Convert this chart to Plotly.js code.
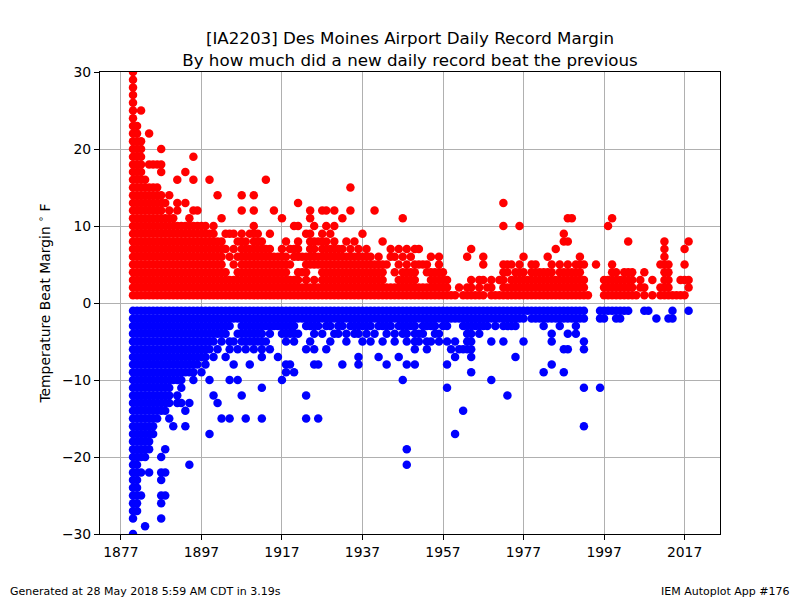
<!DOCTYPE html>
<html>
<head>
<meta charset="utf-8">
<script src="https://cdn.plot.ly/plotly-3.0.1.min.js"></script>
<style>
body { margin: 0; background: #fff; }
#chart { width: 800px; height: 600px; }
</style>
</head>
<body>
<div id="chart"></div>
<script>
// Years that have at least one new daily record.
var years = [
1880,1881,1882,1883,1884,1885,1886,1887,1888,1889,1890,1891,1892,1893,1894,1895,1896,1897,1898,
1899,1900,1901,1902,1903,1904,1905,1906,1907,1908,1909,1910,1911,1912,1913,1914,1915,1916,1917,1918,
1919,1920,1921,1922,1923,1924,1925,1926,1927,1928,1929,1930,1931,1932,1933,1934,1935,1936,1937,1938,
1939,1940,1941,1942,1943,1944,1945,1946,1947,1948,1949,1950,1951,1952,1953,1954,1955,1956,1957,1958,
1959,1960,1961,1962,1963,1964,1965,1966,1967,1968,1969,1970,1971,1972,1973,1974,1975,1976,1977,1978,
1979,1980,1981,1982,1983,1984,1985,1986,1987,1988,1989,1990,1991,1992,1993,1994,1995,1996,1997,1998,
1999,2000,2001,2002,2003,2004,2005,2006,2007,2008,2009,2010,2011,2012,2013,2014,2015,2016,2017,2018
];

// Margins (F) by which new record highs beat the old record, one row per year.
var highMargins = [
[1,2,3,4,5,6,7,8,9,10,11,12,13,14,15,16,17,18,19,20,21,22,23,24,25,26,27,28,29,30],
[1,2,3,4,5,6,7,8,9,10,11,12,13,14,15,16,17,18,19,20,21,22,23],
[1,2,3,4,5,6,7,8,9,10,11,12,13,14,15,16,17,18,19,20,21,25],
[1,2,3,4,5,6,7,8,9,10,11,12,13,14,15,16],
[1,2,3,4,5,6,7,8,9,10,11,12,13,14,15,18,22],
[1,2,3,4,5,6,7,8,9,10,11,12,13,14,15,18],
[1,2,3,4,5,6,7,8,9,10,11,12,13,14,15,18],
[1,2,3,4,5,6,7,8,9,10,11,12,13,14,17,18,20],
[1,2,3,4,5,6,7,8,9,10,11,13],
[1,2,3,4,5,6,7,8,9,10,11,12,14],
[1,2,3,4,5,6,7,8,9,10,11],
[1,2,3,4,5,6,7,8,9,10,12,13,16],
[1,2,3,4,5,6,7,8,9,10],
[1,2,3,4,5,6,7,8,9,10,13,17],
[1,2,3,4,5,6,7,8,9,10,11],
[1,2,3,4,5,6,7,8,9,10,12,16,19],
[1,2,3,4,5,6,7,8,9,10,12],
[1,2,3,4,5,6,7,8,9,10],
[1,2,3,4,5,6,7,8,9,10],
[1,2,3,4,5,6,7,8,9,16],
[1,2,3,4,5,6,7,8,9,10],
[1,2,3,4,5,6,7,8,14],
[1,2,3,4,5,6,7,8,11],
[1,2,3,4,7,9],
[1,2,3,6,9],
[1,2,3,5,7,9],
[1,2,3,4,6,8],
[1,2,3,4,5,6,7,8,9,12,14],
[1,2,3,4,5,6,7,8],
[1,2,3,4,5,6,7,9],
[1,2,3,4,5,6,7,8,9,10,12,14],
[1,2,3,4,5,6,7,8,9],
[1,2,3,4,5,6,7,8],
[1,2,3,4,5,6,7,16],
[1,2,3,4,5,6,7,9],
[1,2,3,4,5,6,12],
[1,2,3,4,5,6],
[1,2,3,4,5,6,7,11],
[1,2,3,4,5,6,8],
[1,2,3,5,7],
[1,2,3,6,7,10],
[1,2,3,4,6,7,8,10,13],
[1,2,4,6],
[1,2,3,4,5,6,9],
[1,2,5,6,7,8,9,11,12],
[1,2,3,5,6,7,8,10],
[1,2,5,6,8],
[1,2,3,4,5,6,7,8,9,12],
[1,2,3,4,5,6,7,8,10,12],
[1,2,3,4,5,6,7,9],
[1,2,3,4,5,6,7,8,10,12],
[1,2,3,4,5,6,7],
[1,2,3,4,5,6,7,11],
[1,2,3,4,5,6,8],
[1,2,3,4,5,6,7,12,15],
[1,2,3,4,5,6,8],
[1,2,3,4,5,6,7],
[1,2,3,4,5,6,9],
[1,2,3,4,5,6,7],
[1,2,3,4,5,6],
[1,2,3,4,5,12],
[1,2,3,4,5,6],
[1,2,3,4,5,8],
[1,2,5],
[1,2,6,7],
[1,2,4,6],
[1,2,3,5,7],
[1,2,3,4,6,11],
[1,2,3,4,5,7],
[1,2,3,4,6],
[1,2,3,4,5,7],
[1,2,5,7],
[1,2,5],
[1,2,4,5],
[1,2,3,4,6],
[1,2,3,4],
[1,2,3,4,5,6],
[1,2,3,4],
[1,2,3],
[1],
[1],
[2],
[1],
[1,2,6],
[1,2,3,7],
[1],
[1,2,3],
[1,3,5,6],
[2],
[1,2,3],
[1],
[1,3],
[1,2,3,4,5,10,13],
[1,2,4,5],
[1,2,3,5],
[1,2,3,4],
[1,2,3,4,5,10],
[1,2,3,4,6],
[1,2,3],
[1,2,3,4,5],
[1,2,3,4,5],
[1,2,3,4],
[1,2,3,4],
[1,2,3,4,6],
[1,2,3,4,5],
[1,2,3,7],
[1,2,3,4,5],
[1,2,3,4,8,9],
[1,2,3,4,5,8,11],
[1,2,3,4,11],
[1,2,3,4,5],
[1,2,3,4,5,6],
[1,2,3,5],
[1],
[],
[5],
[],
[1,2,3],
[1,2,3,10],
[1,2,3,4,5,11],
[1,2,3,4],
[1,2,3],
[1,2,3,4],
[1,2,3,4,8],
[1,2,3,4],
[1],
[2,3],
[1,2,4],
[],
[1,3],
[],
[1,2,5],
[1,2,3,4,5,6,7,8],
[1,2,3,4,5],
[1],
[1],
[1,3],
[1,3,5,7],
[2,3,8]
];

// Margins (F) by which new record lows beat the old record, one row per year.
var lowMargins = [
[-1,-2,-3,-4,-5,-6,-7,-8,-9,-10,-11,-12,-13,-14,-15,-16,-17,-18,-19,-20,-21,-22,-23,-24,-25,-26,-27,-28,-30],
[-1,-2,-3,-4,-5,-6,-7,-8,-9,-10,-11,-12,-13,-14,-15,-16,-17,-18,-19,-20,-21,-22,-23,-24,-25,-26,-27],
[-1,-2,-3,-4,-5,-6,-7,-8,-9,-10,-11,-12,-13,-14,-15,-16,-17,-18,-19,-20,-22,-25],
[-1,-2,-3,-4,-5,-6,-7,-8,-9,-10,-11,-12,-13,-14,-15,-16,-17,-18,-19,-20,-29],
[-1,-2,-3,-4,-5,-6,-7,-8,-9,-10,-11,-12,-13,-14,-15,-16,-17,-18,-19,-22],
[-1,-2,-3,-4,-5,-6,-7,-8,-9,-10,-11,-12,-13,-14,-15,-16,-17],
[-1,-2,-3,-4,-5,-6,-7,-8,-9,-10,-11,-12,-13,-14,-15],
[-1,-2,-3,-4,-5,-6,-7,-8,-9,-10,-11,-12,-13,-14,-20,-22,-23,-25,-26,-28],
[-1,-2,-3,-4,-5,-6,-7,-8,-9,-10,-11,-12,-13,-14,-19,-22,-25],
[-1,-2,-3,-4,-5,-6,-7,-8,-9,-10,-11,-12,-13,-15],
[-1,-2,-3,-4,-5,-6,-7,-8,-9,-10,-16],
[-1,-2,-3,-4,-5,-6,-7,-8,-9,-10,-12,-13],
[-1,-2,-3,-4,-5,-6,-7,-8,-9,-10,-11,-13],
[-1,-2,-3,-4,-5,-6,-7,-8,-9,-14,-16],
[-1,-2,-3,-4,-5,-6,-7,-8,-9,-13,-21],
[-1,-2,-3,-4,-5,-6,-7,-8,-9,-10],
[-1,-2,-3,-4,-5,-6,-7,-8],
[-1,-2,-3,-4,-5,-6,-7,-9],
[-1,-2,-3,-4,-5,-6,-7,-8],
[-1,-2,-3,-4,-5,-6,-10,-17],
[-1,-2,-3,-4,-5,-7,-12],
[-1,-2,-3,-4,-6,-13],
[-1,-2,-3,-4,-5,-15],
[-1,-2,-3,-4,-7],
[-1,-2,-3,-5,-6,-10,-15],
[-1,-2,-5,-8],
[-1,-2,-4,-6,-10],
[-1,-2,-3,-4,-5,-12],
[-1,-2,-3,-4,-5,-6,-15],
[-1,-2,-3,-4,-5,-8],
[-1,-2,-3,-4,-5,-6],
[-1,-2,-3,-4,-5],
[-1,-2,-3,-4,-5,-6,-7,-11,-15],
[-1,-2,-3,-5],
[-1,-2,-3,-4,-6],
[-1,-2,-3],
[-1,-2,-3,-7],
[-1,-2,-3,-4,-10],
[-1,-2,-3,-4,-5,-8,-9],
[-1,-2,-3,-4,-8],
[-1,-2,-3,-4,-5,-9],
[-1,-2,-4],
[-1,-2],
[-1,-2,-3,-6,-12,-15],
[-1,-2,-3,-5],
[-1,-2,-3,-4,-6,-8],
[-1,-2,-3,-8,-15],
[-1,-2,-4],
[-1,-2,-3,-6],
[-1,-2,-3,-5],
[-1,-2,-4],
[-1,-2,-3,-4],
[-1,-2,-3,-8],
[-1,-2,-4,-5],
[-1,-2,-3],
[-1,-2,-3,-4],
[-1,-2,-3,-4,-7,-8],
[-1,-2,-3,-5],
[-1,-2,-3,-4],
[-1,-2,-3,-5],
[-1,-2,-4],
[-1,-2,-3,-7],
[-1,-2,-3,-5],
[-1,-2,-3,-4,-8],
[-1,-2,-3],
[-1,-2,-4,-5],
[-1,-2,-3,-7],
[-1,-2,-3,-4,-10],
[-1,-2,-3,-4,-5,-8,-19,-21],
[-1,-2,-3],
[-1,-2,-3,-4,-5,-6,-8],
[-1,-2,-4,-5],
[-1,-2,-3,-4],
[-1,-2,-3,-5,-6],
[-1,-2,-3,-5],
[-1,-2,-3,-4],
[-1,-2,-4,-5],
[-1,-2,-3],
[-1,-2,-3,-5,-8,-11],
[-1,-2,-6],
[-1,-2,-5,-7,-17],
[-1,-2,-6],
[-1,-2,-3,-6,-14],
[-1,-2,-3,-4,-5,-6],
[-1,-2,-3,-4,-5,-6,-7,-9],
[-1,-2,-3],
[-1,-2,-3,-4],
[-1,-2,-3],
[-1,-2,-3],
[-1,-2,-5,-10],
[-1,-2,-3],
[-1,-2],
[-1,-2,-3,-5],
[-1,-2,-3,-12],
[-1,-2,-3],
[-1,-2,-3,-7],
[-1,-2],
[-1,-2,-5],
[-1],
[-1,-2],
[-1,-2],
[-1,-2],
[-1,-2,-3,-9],
[-1,-2],
[-1,-2,-4,-5,-8],
[-1,-2],
[-1,-2,-3],
[-1,-2,-6,-9],
[-1,-2,-4,-6],
[-1,-2],
[-1,-2,-3,-4],
[-1,-2],
[-1,-2,-5,-6,-11,-16],
[],
[],
[],
[-1,-2,-11],
[-1,-2],
[-1],
[-1],
[-1,-2],
[-1,-2],
[-1],
[-1],
[],
[],
[],
[-1],
[-1],
[],
[-2],
[],
[],
[-2],
[-1,-2],
[],
[],
[],
[-1]
];

var xTicks = [1877, 1897, 1917, 1937, 1957, 1977, 1997, 2017];
var yTicks = [-30, -20, -10, 0, 10, 20, 30];

// Flatten the per-year rows into x/y pairs.
var hiX = [], hiY = [], loX = [], loY = [];
for (var i = 0; i < years.length; ++i) {
  highMargins[i].forEach(function (m) { hiX.push(years[i]); hiY.push(m); });
  lowMargins[i].forEach(function (m) { loX.push(years[i]); loY.push(m); });
}

var font = 'DejaVu Sans, Arial, sans-serif';

var traces = [{
  x: loX, y: loY,
  type: 'scatter', mode: 'markers',
  marker: {color: '#0000ff', size: 8.5, line: {width: 0}},
  hoverinfo: 'skip', showlegend: false
}, {
  x: hiX, y: hiY,
  type: 'scatter', mode: 'markers',
  marker: {color: '#ff0000', size: 8.5, line: {width: 0}},
  hoverinfo: 'skip', showlegend: false
}];

var axisStyle = {
  showgrid: true,
  gridcolor: '#b0b0b0',
  gridwidth: 1,
  zeroline: false,
  showline: true,
  mirror: true,
  linecolor: '#000',
  linewidth: 1,
  ticks: 'outside',
  ticklen: 5,
  tickwidth: 1,
  tickcolor: '#000',
  tickfont: {family: font, size: 13.9, color: '#000'}
};

var layout = {
  width: 800,
  height: 600,
  margin: {l: 100, r: 80, t: 72, b: 66},
  paper_bgcolor: '#fff',
  plot_bgcolor: '#fff',
  font: {family: font, color: '#000'},
  title: {
    text: '[IA2203] Des Moines Airport Daily Record Margin<br>By how much did a new daily record beat the previous',
    font: {family: font, size: 16.7, color: '#000'},
    x: 0.5, xref: 'paper', xanchor: 'center',
    y: 1 - 44 / 600, yref: 'container', yanchor: 'middle'
  },
  xaxis: Object.assign({}, axisStyle, {
    range: [1871.8, 2025.8],
    tickmode: 'array',
    tickvals: xTicks,
    ticktext: xTicks.map(String)
  }),
  yaxis: Object.assign({}, axisStyle, {
    range: [-30, 30],
    tickmode: 'array',
    tickvals: yTicks,
    title: {
      text: 'Temperature Beat Margin <sup>\u2218</sup> F',
      font: {family: font, size: 13.9, color: '#000'},
      standoff: 8
    }
  }),
  annotations: [{
    text: 'Generated at 28 May 2018 5:59 AM CDT in 3.19s',
    xref: 'paper', yref: 'paper',
    x: -0.1484, y: -0.1255,
    xanchor: 'left', yanchor: 'middle',
    showarrow: false,
    font: {family: font, size: 11, color: '#000'}
  }, {
    text: 'IEM Autoplot App #176',
    xref: 'paper', yref: 'paper',
    x: 1.1161, y: -0.1255,
    xanchor: 'right', yanchor: 'middle',
    showarrow: false,
    font: {family: font, size: 11, color: '#000'}
  }]
};

Plotly.newPlot('chart', traces, layout, {displayModeBar: false, staticPlot: true});
</script>
</body>
</html>
